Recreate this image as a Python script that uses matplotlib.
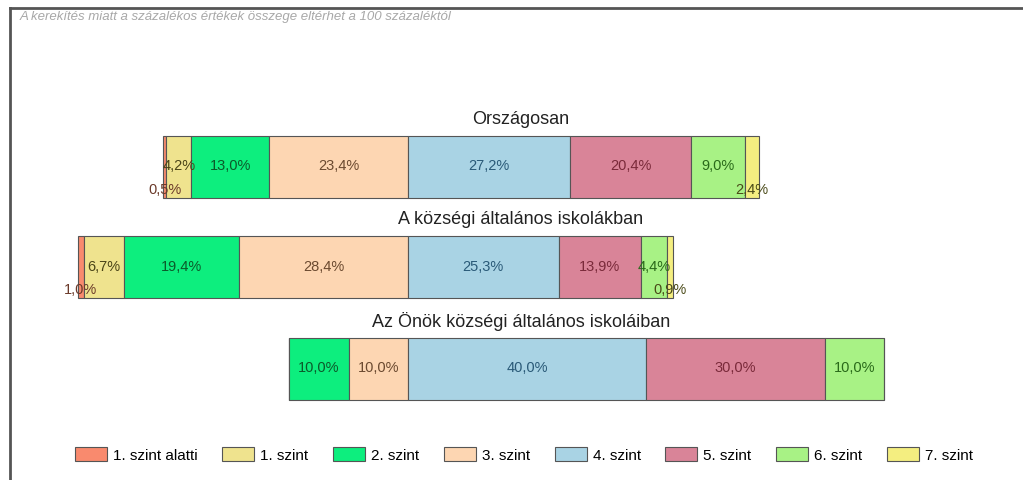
import matplotlib.pyplot as plt
from matplotlib.lines import Line2D

plt.rcParams['font.family'] = ['Liberation Sans', 'DejaVu Sans']

# data
groups = ["Országosan", "A községi általános iskolákban", "Az Önök községi általános iskoláiban"]
levels = ["1. szint alatti", "1. szint", "2. szint", "3. szint",
          "4. szint", "5. szint", "6. szint", "7. szint"]
orszagos = [0.5, 4.2, 13.0, 23.4, 27.2, 20.4, 9.0, 2.4]
kozsegi = [1.0, 6.7, 19.4, 28.4, 25.3, 13.9, 4.4, 0.9]
onok = [0.0, 0.0, 10.0, 10.0, 40.0, 30.0, 10.0, 0.0]
rows = [orszagos, kozsegi, onok]

colors = ['#F98A6E', '#EFE38E', '#0DEE7E', '#FDD6B2', '#A9D3E4', '#D98498', '#A8F285', '#F4EE80']
text_colors = ['#6b3a2a', '#4a4418', '#0b5a2a', '#6b4a30', '#2a5a78', '#7a2a3a', '#2a6a1a', '#4a4a18']

fig = plt.figure(figsize=(10.23, 4.8), dpi=100)
ax = fig.add_axes([0, 0, 1, 1])
# x in percent, 0 = border between 3. and 4. szint; y in pixel rows
px = 5.95
ax.set_xlim(-408 / px, 615 / px)
ax.set_ylim(480, 0)
ax.axis('off')

row_y = [166.5, 267, 368.5]
bar_h = 62

handles = []
for r, vals in enumerate(rows):
    left = -sum(vals[:4])
    for i, v in enumerate(vals):
        b = ax.barh(row_y[r], v, left=left, height=bar_h, color=colors[i],
                    edgecolor='#555555', linewidth=0.8)
        if r == 0:
            handles.append(b)
        if v > 0:
            lab = f"{v:.1f}".replace('.', ',') + '%'
            ty = row_y[r] + (23 if v < 3 else 0)
            ax.text(left + v / 2, ty, lab, ha='center', va='center',
                    fontsize=10.5, color=text_colors[i])
        left += v
    ax.text((521 - 408) / px, row_y[r] - bar_h / 2 - 16, groups[r],
            ha='center', va='center', fontsize=13, color='#222222')

fig.legend(handles, levels, ncol=8, loc='center',
           bbox_to_anchor=(524 / 1023, 1 - 455 / 480), frameon=False,
           fontsize=11, handlelength=2.1, handleheight=1.0,
           handletextpad=0.4, columnspacing=1.6)

# frame
fig.add_artist(Line2D([10 / 1023, 10 / 1023], [0, 1 - 8 / 480],
                      transform=fig.transFigure, color='#555555', lw=2))
fig.add_artist(Line2D([10 / 1023, 1], [1 - 8 / 480, 1 - 8 / 480],
                      transform=fig.transFigure, color='#555555', lw=2))

fig.text(20 / 1023, 1 - 17 / 480,
         "A kerekítés miatt a százalékos értékek összege eltérhet a 100 százaléktól",
         fontsize=9.5, style='italic', color='#a8a8a8', va='center')

fig.savefig('out.png', dpi=100)
